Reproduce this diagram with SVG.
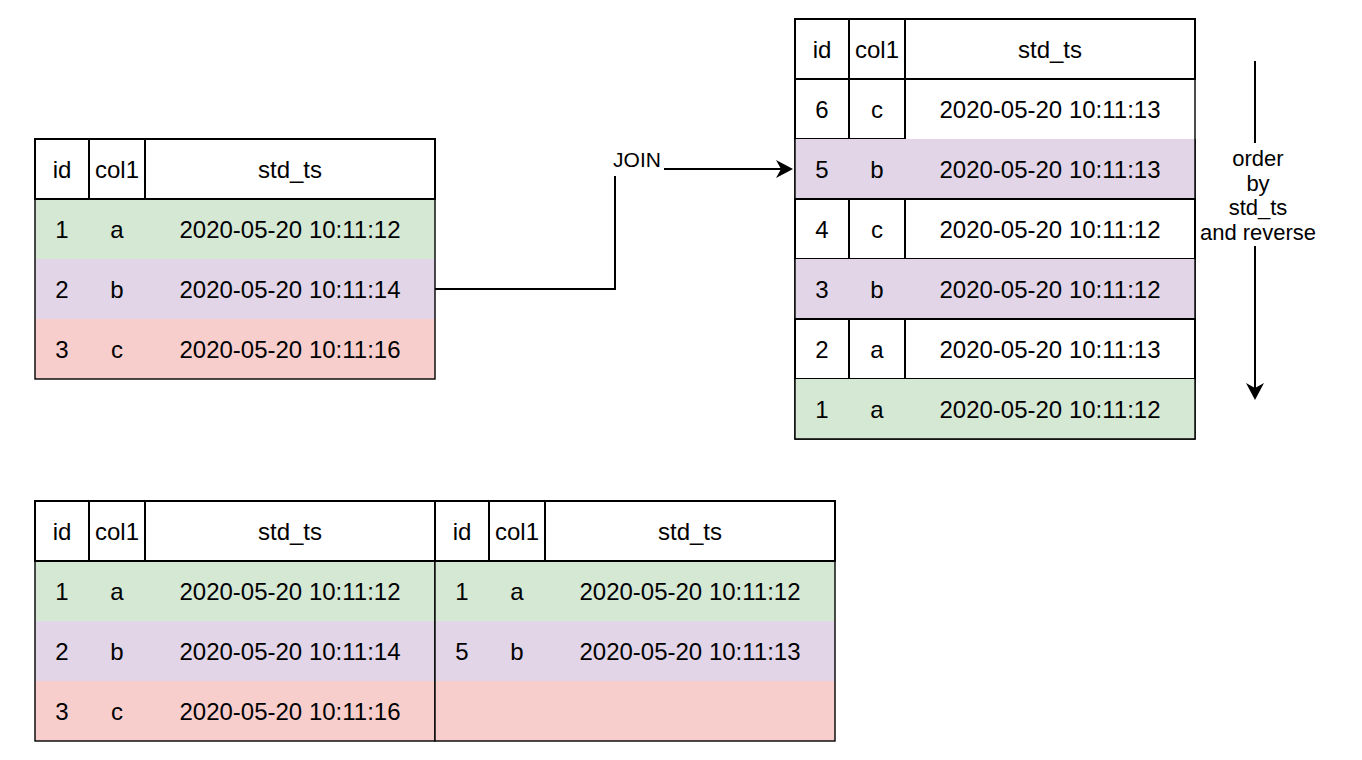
<svg xmlns="http://www.w3.org/2000/svg" width="1362" height="760" viewBox="0 0 1362 760">
  <defs>
    <style>
      text { font-family: "Liberation Sans", Arial, Helvetica, sans-serif; fill: #000; text-anchor: middle; }
      .t { font-size: 24px; }
      .lbl { font-size: 21px; }
      .olbl { font-size: 22px; }
      .cell { fill: #ffffff; stroke: #000; stroke-width: 2; }
      .outer { fill: none; stroke: #000; stroke-width: 1.4; }
      .green { fill: #d5e8d4; stroke: none; }
      .purple { fill: #e1d5e7; stroke: none; }
      .red { fill: #f8cecc; stroke: none; }
      .white { fill: #ffffff; stroke: none; }
      .edge { fill: none; stroke: #000; stroke-width: 2; }
    </style>
    <marker id="arrow" markerUnits="userSpaceOnUse" markerWidth="18" markerHeight="18" refX="5" refY="9" orient="auto">
      <path d="M0,0 L17,9 L0,18 L5,9 Z" fill="#000"/>
    </marker>
  </defs>
  <rect x="0" y="0" width="1362" height="760" fill="#ffffff"/>

  <!-- Top-left table -->
  <g id="table-source">
    <rect class="green" x="35" y="199" width="400" height="60"/>
    <rect class="purple" x="35" y="259" width="400" height="60"/>
    <rect class="red" x="35" y="319" width="400" height="60"/>
    <rect class="outer" x="35" y="139" width="400" height="240"/>
    <rect class="cell" x="35" y="139" width="54" height="60"/>
    <rect class="cell" x="89" y="139" width="56" height="60"/>
    <rect class="cell" x="145" y="139" width="290" height="60"/>
    <text class="t" x="62" y="177.6">id</text>
    <text class="t" x="117" y="177.6">col1</text>
    <text class="t" x="290" y="177.6">std_ts</text>
    <text class="t" x="62" y="237.6">1</text>
    <text class="t" x="117" y="237.6">a</text>
    <text class="t" x="290" y="237.6">2020-05-20 10:11:12</text>
    <text class="t" x="62" y="297.6">2</text>
    <text class="t" x="117" y="297.6">b</text>
    <text class="t" x="290" y="297.6">2020-05-20 10:11:14</text>
    <text class="t" x="62" y="357.6">3</text>
    <text class="t" x="117" y="357.6">c</text>
    <text class="t" x="290" y="357.6">2020-05-20 10:11:16</text>
  </g>

  <!-- Top-right table -->
  <g id="table-joined">
    <rect class="outer" x="795" y="19" width="400" height="420"/>
    <rect class="cell" x="795" y="19" width="54" height="60"/>
    <rect class="cell" x="849" y="19" width="56" height="60"/>
    <rect class="cell" x="905" y="19" width="290" height="60"/>
    <!-- row 6 -->
    <rect class="cell" x="795" y="79" width="54" height="60"/>
    <rect class="cell" x="849" y="79" width="56" height="60"/>
    <!-- row 5 -->
    <rect class="purple" x="795" y="139" width="400" height="60"/>
    <!-- row 4 -->
    <rect class="cell" x="795" y="199" width="54" height="60"/>
    <rect class="cell" x="849" y="199" width="56" height="60"/>
    <rect class="cell" x="905" y="199" width="290" height="60"/>
    <!-- row 3 -->
    <rect class="purple" x="795" y="259" width="400" height="60"/>
    <!-- row 2 -->
    <rect class="cell" x="795" y="319" width="54" height="60"/>
    <rect class="cell" x="849" y="319" width="56" height="60"/>
    <rect class="cell" x="905" y="319" width="290" height="60"/>
    <!-- row 1 -->
    <rect class="green" x="795" y="379" width="400" height="60"/>
    <path d="M795,139 V439 H1195 V139" fill="none" stroke="#000" stroke-width="1.4"/>
    <text class="t" x="822" y="57.6">id</text>
    <text class="t" x="877" y="57.6">col1</text>
    <text class="t" x="1050" y="57.6">std_ts</text>
    <text class="t" x="822" y="117.6">6</text>
    <text class="t" x="877" y="117.6">c</text>
    <text class="t" x="1050" y="117.6">2020-05-20 10:11:13</text>
    <text class="t" x="822" y="177.6">5</text>
    <text class="t" x="877" y="177.6">b</text>
    <text class="t" x="1050" y="177.6">2020-05-20 10:11:13</text>
    <text class="t" x="822" y="237.6">4</text>
    <text class="t" x="877" y="237.6">c</text>
    <text class="t" x="1050" y="237.6">2020-05-20 10:11:12</text>
    <text class="t" x="822" y="297.6">3</text>
    <text class="t" x="877" y="297.6">b</text>
    <text class="t" x="1050" y="297.6">2020-05-20 10:11:12</text>
    <text class="t" x="822" y="357.6">2</text>
    <text class="t" x="877" y="357.6">a</text>
    <text class="t" x="1050" y="357.6">2020-05-20 10:11:13</text>
    <text class="t" x="822" y="417.6">1</text>
    <text class="t" x="877" y="417.6">a</text>
    <text class="t" x="1050" y="417.6">2020-05-20 10:11:12</text>
  </g>

  <!-- Bottom-left table -->
  <g id="table-result-left">
    <rect class="green" x="35" y="561" width="400" height="60"/>
    <rect class="purple" x="35" y="621" width="400" height="60"/>
    <rect class="red" x="35" y="681" width="400" height="60"/>
    <rect class="outer" x="35" y="501" width="400" height="240"/>
    <rect class="cell" x="35" y="501" width="54" height="60"/>
    <rect class="cell" x="89" y="501" width="56" height="60"/>
    <rect class="cell" x="145" y="501" width="290" height="60"/>
    <text class="t" x="62" y="539.6">id</text>
    <text class="t" x="117" y="539.6">col1</text>
    <text class="t" x="290" y="539.6">std_ts</text>
    <text class="t" x="62" y="599.6">1</text>
    <text class="t" x="117" y="599.6">a</text>
    <text class="t" x="290" y="599.6">2020-05-20 10:11:12</text>
    <text class="t" x="62" y="659.6">2</text>
    <text class="t" x="117" y="659.6">b</text>
    <text class="t" x="290" y="659.6">2020-05-20 10:11:14</text>
    <text class="t" x="62" y="719.6">3</text>
    <text class="t" x="117" y="719.6">c</text>
    <text class="t" x="290" y="719.6">2020-05-20 10:11:16</text>
  </g>

  <!-- Bottom-right table -->
  <g id="table-result-right">
    <rect class="green" x="435" y="561" width="400" height="60"/>
    <rect class="purple" x="435" y="621" width="400" height="60"/>
    <rect class="red" x="435" y="681" width="400" height="60"/>
    <rect class="outer" x="435" y="501" width="400" height="240"/>
    <rect class="cell" x="435" y="501" width="54" height="60"/>
    <rect class="cell" x="489" y="501" width="56" height="60"/>
    <rect class="cell" x="545" y="501" width="290" height="60"/>
    <text class="t" x="462" y="539.6">id</text>
    <text class="t" x="517" y="539.6">col1</text>
    <text class="t" x="690" y="539.6">std_ts</text>
    <text class="t" x="462" y="599.6">1</text>
    <text class="t" x="517" y="599.6">a</text>
    <text class="t" x="690" y="599.6">2020-05-20 10:11:12</text>
    <text class="t" x="462" y="659.6">5</text>
    <text class="t" x="517" y="659.6">b</text>
    <text class="t" x="690" y="659.6">2020-05-20 10:11:13</text>
  </g>

  <!-- Connectors -->
  <g id="connectors">
    <g id="edge-join">
      <path class="edge" d="M435,289 H615 V169 H781" marker-end="url(#arrow)"/>
      <rect class="white" x="610" y="148" width="54" height="28"/>
      <text class="lbl" x="637" y="167">JOIN</text>
    </g>
    <g id="edge-order">
      <path class="edge" d="M1255,61 V388" marker-end="url(#arrow)"/>
      <rect class="white" x="1198" y="143" width="122" height="103"/>
      <text class="olbl" x="1258" y="166">order</text>
      <text class="olbl" x="1258" y="190.7">by</text>
      <text class="olbl" x="1258" y="215.3">std_ts</text>
      <text class="olbl" x="1258" y="240">and reverse</text>
    </g>
  </g>
</svg>
